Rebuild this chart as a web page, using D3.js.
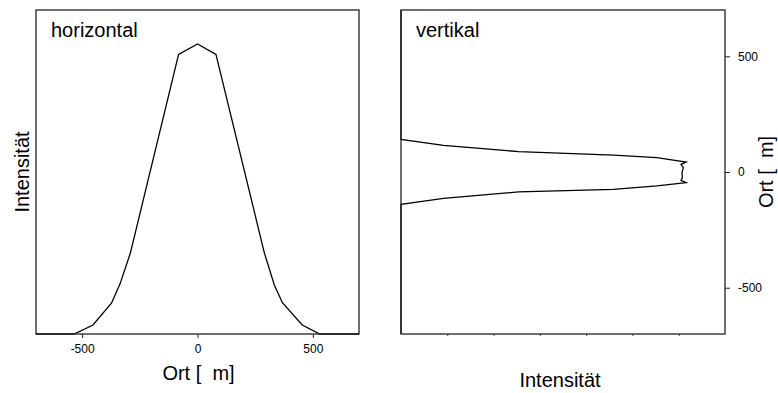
<!DOCTYPE html>
<html>
<head>
<meta charset="utf-8">
<script src="https://cdn.jsdelivr.net/npm/d3@7"></script>
<style>
  body { margin: 0; background: #fff; }
  svg { display: block; font-family: "Liberation Sans", Arial, sans-serif; }
  text { white-space: pre; }
</style>
</head>
<body>
<div id="chart"></div>
<script>
// horizontal profile: position (x) vs. relative intensity
const horizPos = [-700, -535, -453, -373, -336, -291, -82, 0, 80, 290, 333, 368, 454, 530, 700];
const horizInt = [0, 0, 0.031, 0.106, 0.172, 0.279, 0.964, 1, 0.964, 0.279, 0.169, 0.108, 0.031, 0, 0];

// vertical profile: position (y) vs. intensity (arbitrary units)
const vertPos = [700, 141, 115, 88, 73, 62, 43, 33, 19, -3, -24, -36, -46, -60, -75, -86, -114, -140, -700];
const vertInt = [0, 0, 0.92, 2.54, 4.59, 5.53, 6.16, 6.05, 6.10, 6.07, 6.08, 6.05, 6.16, 5.53, 4.59, 2.54, 0.92, 0, 0];

const posTicks = [-500, 0, 500];
const intTicks = [1, 2, 3, 4, 5, 6];

const W = 778, H = 393;
const left = { x0: 36, x1: 359, y0: 10, y1: 334 };
const right = { x0: 401, x1: 725, y0: 10, y1: 334 };

const fmt = d => String(d); // plain hyphen minus like the original

const svg = d3.select("#chart").append("svg")
  .attr("width", W).attr("height", H);

// ---- left panel (horizontal) ----
const xL = d3.scaleLinear().domain([-700, 700]).range([left.x0, left.x1]);
const yL = d3.scaleLinear().domain([0, 1.117]).range([left.y1, left.y0]);

svg.append("g")
  .attr("transform", `translate(0,${left.y1})`)
  .call(d3.axisBottom(xL).tickValues(posTicks).tickSize(4).tickPadding(6).tickFormat(fmt))
  .call(g => g.select(".domain").remove())
  .call(g => g.selectAll("text").attr("font-size", 12).attr("fill", "#000").attr("font-family", null))
  .call(g => g.selectAll("line").attr("stroke", "#222"));

svg.append("path")
  .datum(horizPos.map((p, i) => [p, horizInt[i]]))
  .attr("fill", "none")
  .attr("stroke", "#000")
  .attr("stroke-width", 1.3)
  .attr("d", d3.line().x(d => xL(d[0])).y(d => yL(d[1])));

svg.append("rect")
  .attr("x", left.x0).attr("y", left.y0)
  .attr("width", left.x1 - left.x0).attr("height", left.y1 - left.y0)
  .attr("fill", "none").attr("stroke", "#222").attr("stroke-width", 1.3);

svg.append("text").attr("x", 51).attr("y", 37)
  .attr("font-size", 20).text("horizontal");

svg.append("text")
  .attr("transform", `translate(29,${(left.y0 + left.y1) / 2}) rotate(-90)`)
  .attr("text-anchor", "middle").attr("font-size", 20).text("Intensität");

svg.append("text")
  .attr("x", (left.x0 + left.x1) / 2 + 1).attr("y", 380)
  .attr("text-anchor", "middle").attr("font-size", 20).text("Ort [  m]");

// ---- right panel (vertical) ----
const xR = d3.scaleLinear().domain([0, 7]).range([right.x0, right.x1]);
const yR = d3.scaleLinear().domain([-700, 700]).range([right.y1, right.y0]);

svg.append("g")
  .attr("transform", `translate(${right.x1},0)`)
  .call(d3.axisRight(yR).tickValues(posTicks).tickSize(5).tickPadding(8).tickFormat(fmt))
  .call(g => g.select(".domain").remove())
  .call(g => g.selectAll("text").attr("font-size", 12).attr("fill", "#000").attr("font-family", null))
  .call(g => g.selectAll("line").attr("stroke", "#222"));

svg.append("g")
  .attr("transform", `translate(0,${right.y1})`)
  .call(d3.axisBottom(xR).tickValues(intTicks).tickSize(2).tickFormat(""))
  .call(g => g.select(".domain").remove())
  .call(g => g.selectAll("line").attr("stroke", "#444"));

svg.append("path")
  .datum(vertPos.map((p, i) => [vertInt[i], p]))
  .attr("fill", "none")
  .attr("stroke", "#000")
  .attr("stroke-width", 1.3)
  .attr("d", d3.line().x(d => xR(d[0])).y(d => yR(d[1])));

svg.append("rect")
  .attr("x", right.x0).attr("y", right.y0)
  .attr("width", right.x1 - right.x0).attr("height", right.y1 - right.y0)
  .attr("fill", "none").attr("stroke", "#222").attr("stroke-width", 1.3);

svg.append("text").attr("x", 416).attr("y", 37)
  .attr("font-size", 20).text("vertikal");

svg.append("text")
  .attr("transform", `translate(773,${(right.y0 + right.y1) / 2}) rotate(-90)`)
  .attr("text-anchor", "middle").attr("font-size", 20).text("Ort [  m]");

svg.append("text")
  .attr("x", (right.x0 + right.x1) / 2 - 3).attr("y", 387)
  .attr("text-anchor", "middle").attr("font-size", 20).text("Intensität");
</script>
</body>
</html>
